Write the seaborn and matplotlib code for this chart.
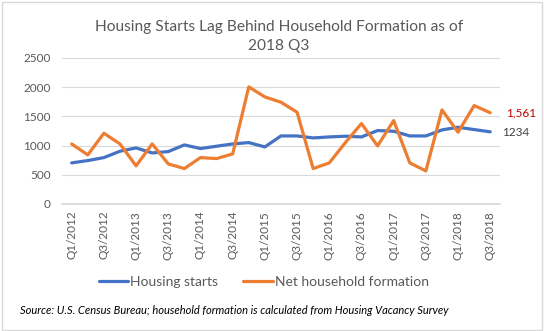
import matplotlib
matplotlib.use("Agg")
import matplotlib.pyplot as plt
import seaborn as sns
import pandas as pd
from matplotlib.patches import Rectangle
from matplotlib.lines import Line2D

quarters = [f"Q{q}/{y}" for y in range(2012, 2019) for q in (1, 2, 3, 4)][:27]
housing_starts = [702, 742, 793, 902, 959, 873, 896, 1010, 948, 988, 1027, 1050, 976, 1164,
                  1164, 1130, 1147, 1159, 1147, 1256, 1244, 1164, 1164, 1267, 1313, 1273, 1234]
household_formation = [1027, 839, 1210, 1027, 651, 1027, 685, 605, 793, 776, 856, 2004, 1832, 1741,
                       1570, 605, 702, 1050, 1376, 993, 1427, 702, 565, 1610, 1227, 1684, 1561]
tick_labels = quarters[::2]

sns.set_theme(style="white")
plt.rcParams['font.family'] = ['Lato', 'DejaVu Sans']

df = pd.DataFrame({
    "idx": list(range(len(quarters))) * 2,
    "value": housing_starts + household_formation,
    "series": ["Housing starts"] * len(quarters) + ["Net household formation"] * len(quarters),
})

fig = plt.figure(figsize=(5.44, 3.31), dpi=100)
ax = fig.add_axes([0.114, 0.384, 0.805, 0.441])
sns.lineplot(data=df, x="idx", y="value", hue="series",
             palette=["#4472C4", "#ED7D31"], linewidth=2.3, ax=ax, legend=False)

gray = "#595959"
ax.set_ylim(0, 2500)
ax.set_yticks(range(0, 2501, 500))
ax.set_xlim(-0.6, len(quarters) - 0.4)
ax.set_xticks(range(0, len(quarters), 2))
ax.set_xticklabels(tick_labels, rotation=90, fontsize=8.5, color=gray)
ax.tick_params(axis='y', labelsize=8.5, colors=gray, length=0, pad=8)
ax.tick_params(axis='x', length=0, pad=5)
ax.yaxis.grid(True, color="#d9d9d9", linewidth=0.8)
ax.set_axisbelow(True)
for s in ["top", "right", "left"]:
    ax.spines[s].set_visible(False)
ax.spines["bottom"].set_color("#d9d9d9")
ax.set_xlabel("")
ax.set_ylabel("")

n = len(quarters)
ax.text(n - 0.05, household_formation[-1], "1,561", color="#C00000",
        fontsize=8.5, va="center", ha="left", clip_on=False)
ax.text(n - 0.25, housing_starts[-1] - 5, "1234", color="#404040",
        fontsize=8.5, va="center", ha="left", clip_on=False)

fig.text(0.513, 0.89, "Housing Starts Lag Behind Household Formation as of\n2018 Q3",
         ha="center", va="center", fontsize=11.2, color=gray, linespacing=1.4)

handles = [Line2D([], [], color="#4472C4", lw=2.3), Line2D([], [], color="#ED7D31", lw=2.3)]
fig.legend(handles, ["Housing starts", "Net household formation"], loc="center",
           bbox_to_anchor=(0.485, 0.148), ncol=2, frameon=False, fontsize=10,
           labelcolor=gray, handlelength=2.1, handletextpad=0.15, columnspacing=1.8)

fig.text(0.037, 0.062, "Source: U.S. Census Bureau; household formation is calculated from Housing Vacancy Survey",
         ha="left", va="center", fontsize=8, style="italic", color="black")

fig.patches.append(Rectangle((0.004, 0.004), 0.992, 0.99, transform=fig.transFigure,
                             fill=False, edgecolor="#d9d9d9", linewidth=1))

fig.savefig("out.png", dpi=100)
